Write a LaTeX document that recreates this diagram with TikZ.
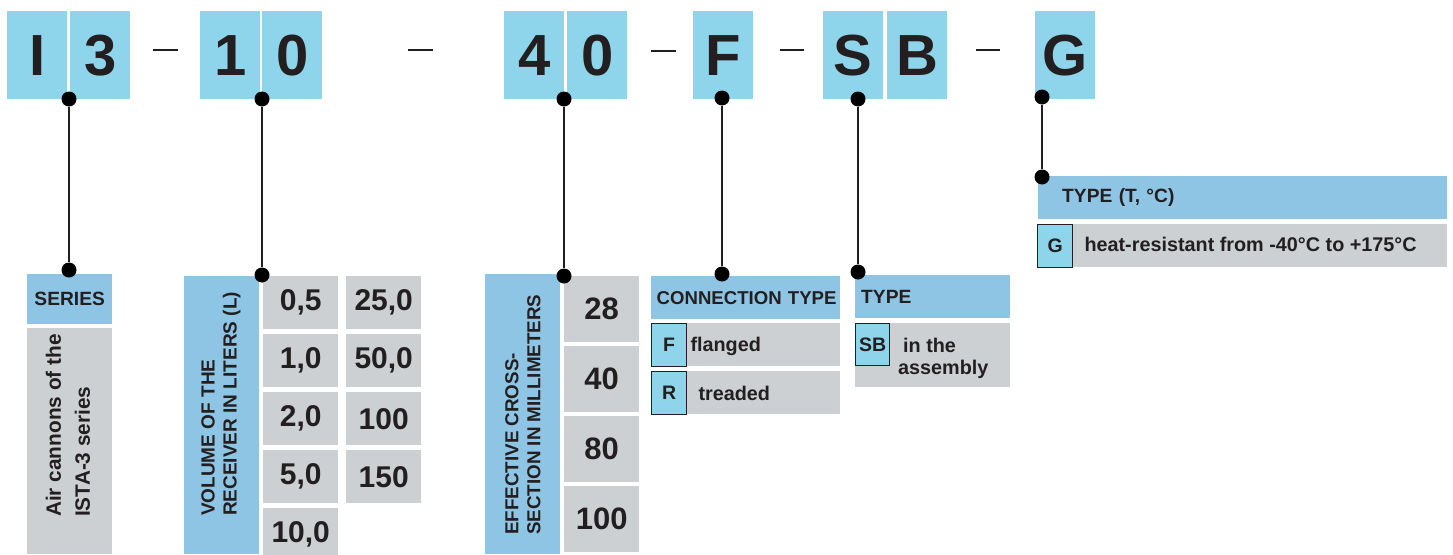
\documentclass[tikz,border=0pt]{standalone}
\usepackage{fontspec}
\setmainfont{Liberation Sans}
\usetikzlibrary{positioning}
\definecolor{codeblue}{HTML}{8ED4EB}
\definecolor{headblue}{HTML}{8FC5E4}
\definecolor{cellgrey}{HTML}{CCD0D2}
\definecolor{inkdark}{HTML}{231F20}

\begin{document}
\begin{tikzpicture}[x=1pt,y=-1pt,font=\bfseries,text=inkdark]
	
	% Styles for code letters, headers, cells and leaders
	\tikzset{
		codebox/.style={anchor=north west,fill=codeblue,inner sep=0pt,minimum width=60pt,minimum height=88pt,font=\fontsize{58}{60}\selectfont\bfseries},
		joint/.style={circle,fill=black,inner sep=0pt,minimum size=15pt},
		leader/.style={line width=2.3pt,draw=inkdark},
		sepline/.style={line width=2.5pt,draw=inkdark},
		headbox/.style={anchor=north west,fill=headblue,inner xsep=6pt,inner ysep=0pt,minimum height=43pt,align=left,font=\fontsize{19.2}{22}\selectfont\bfseries},
		sidebox/.style={anchor=north west,fill=headblue,inner sep=0pt,minimum width=75pt},
		numcell/.style={anchor=north west,fill=cellgrey,inner sep=0pt,minimum width=75pt,font=\fontsize{30}{32}\selectfont\bfseries},
		rowbox/.style={anchor=north west,fill=cellgrey,inner sep=0pt,minimum height=43pt},
		keybox/.style={anchor=north west,fill=codeblue,draw=inkdark,line width=1.3pt,inner sep=0pt,minimum width=35pt,minimum height=43pt,font=\fontsize{19.5}{22}\selectfont\bfseries},
		rowtext/.style={inner sep=0pt,anchor=west,font=\fontsize{19.8}{22}\selectfont\bfseries},
		sidetext/.style={rotate=90,anchor=west,inner sep=0pt,align=left,font=\fontsize{19}{22}\selectfont\bfseries}
	}
	
	\path[use as bounding box,clip] (0,0) rectangle (1453,554);
	
	%========================================
	% Code: I3 - 10 - 40 - F - SB - G
	%========================================
	\node[codebox] (cI) at (7,11) {I};
	\node[codebox] (c3) at (70,11) {3};
	\node[codebox] (c1) at (200,11) {1};
	\node[codebox] (c0) at (262,11) {0};
	\node[codebox] (c4) at (504,11) {4};
	\node[codebox] (c0b) at (567,11) {0};
	\node[codebox] (cF) at (693,11) {F};
	\node[codebox] (cS) at (823,11) {S};
	\node[codebox] (cB) at (887,11) {B};
	\node[codebox] (cG) at (1035,11) {G};
	
	% Dashes between the groups
	\draw[sepline] (153,50) -- (178,50);
	\draw[sepline] (408,50) -- (433,50);
	\draw[sepline] (651,51) -- (676,51);
	\draw[sepline] (780,50) -- (804,50);
	\draw[sepline] (976,50) -- (1000,50);
	
	%========================================
	% Series
	%========================================
	\node[headbox,minimum width=85pt,minimum height=50pt,inner xsep=0pt,align=center] (serhead) at (27,274) {SERIES};
	\node[rowbox,minimum width=85pt,minimum height=226pt] (serbody) at (27,328) {};
	\node[sidetext,font=\fontsize{20.8}{29}\selectfont\bfseries] (sertext) at (68,517) {Air cannons of the\\ISTA-3 series};
	
	%========================================
	% Volume of the receiver
	%========================================
	\node[sidebox,minimum height=278pt] (volside) at (184,276) {};
	\node[sidetext] (voltext) at (221,516) {VOLUME OF THE\\RECEIVER IN LITERS (L)};
	
	\node[numcell,minimum height=53pt] (v05) at (263,276) {0,5};
	\node[numcell,minimum height=53pt] (v10) at (263,334) {1,0};
	\node[numcell,minimum height=53pt] (v20) at (263,392) {2,0};
	\node[numcell,minimum height=53pt] (v50) at (263,450) {5,0};
	\node[numcell,minimum height=53pt] (v100) at (263,508) {10,0};
	\node[numcell,minimum height=53pt] (v250) at (346,276) {25,0};
	\node[numcell,minimum height=53pt] (v500) at (346,334) {50,0};
	\node[numcell,minimum height=53pt] (v1000) at (346,392) {100};
	\node[numcell,minimum height=53pt] (v1500) at (346,450) {150};
	
	%========================================
	% Effective cross-section
	%========================================
	\node[sidebox,minimum height=280pt] (effside) at (485,274) {};
	\node[sidetext,font=\fontsize{18.8}{22}\selectfont\bfseries] (efftext) at (523,535) {EFFECTIVE CROSS-\\SECTION IN MILLIMETERS};
	
	\node[numcell,minimum height=66pt,font=\fontsize{31}{33}\selectfont\bfseries] (e28) at (564,276) {28};
	\node[numcell,minimum height=66pt,font=\fontsize{31}{33}\selectfont\bfseries] (e40) at (564,346) {40};
	\node[numcell,minimum height=66pt,font=\fontsize{31}{33}\selectfont\bfseries] (e80) at (564,416) {80};
	\node[numcell,minimum height=66pt,font=\fontsize{31}{33}\selectfont\bfseries] (e100) at (564,486) {100};
	
	%========================================
	% Connection type
	%========================================
	\node[headbox,text width=182pt,inner xsep=3.5pt,font=\fontsize{18.6}{22}\selectfont\bfseries] (conhead) at (651,276) {\hspace*{2pt}CONNECTION TYPE};
	\node[rowbox,minimum width=189pt] (frow) at (651,323) {};
	\node[keybox] (fkey) at (651,323) {F};
	\node[rowtext,right=3pt of fkey,anchor=mid west,yshift=-4pt] (ftext) {flanged};
	\node[rowbox,minimum width=189pt] (rrow) at (651,371) {};
	\node[keybox] (rkey) at (651,371) {R};
	\node[rowtext,right=11pt of rkey,anchor=mid west,yshift=-5pt] (rtext) {treaded};
	
	%========================================
	% Type
	%========================================
	\node[headbox,text width=143pt] (typehead) at (855,275) {TYPE};
	\node[rowbox,minimum width=155pt,minimum height=64pt] (sbrow) at (855,323) {};
	\node[keybox,minimum width=34pt,minimum height=42pt] (sbkey) at (855,323) {SB};
	\node[rowtext,anchor=north west,align=left] (sbtext) at (898,338) {\hspace*{5pt}in the\\assembly};
	
	%========================================
	% Type (T, °C)
	%========================================
	\node[headbox,text width=361pt,inner xsep=24pt] (ghead) at (1038,176) {TYPE (T, °C)};
	\node[rowbox,minimum width=409pt] (grow) at (1038,224) {};
	\node[keybox] (gkey) at (1037,224) {G};
	\node[rowtext,right=11pt of gkey,anchor=mid west,yshift=-3pt] (gtext) {heat-resistant from -40°C to +175°C};
	
	%========================================
	% Leaders from the code to the tables
	%========================================
	\node[joint] (jI) at (69,99) {};
	\node[joint] (jSer) at (69,270) {};
	\draw[leader] (jI) -- (jSer);
	
	\node[joint] (j10) at (262,99) {};
	\node[joint] (jVol) at (262,275) {};
	\draw[leader] (j10) -- (jVol);
	
	\node[joint] (j40) at (564,99) {};
	\node[joint] (jEff) at (564,276) {};
	\draw[leader] (j40) -- (jEff);
	
	\node[joint] (jF) at (722,98) {};
	\node[joint] (jCon) at (722,274) {};
	\draw[leader] (jF) -- (jCon);
	
	\node[joint] (jSB) at (858,99) {};
	\node[joint] (jType) at (858,272) {};
	\draw[leader] (jSB) -- (jType);
	
	\node[joint] (jG) at (1042,97) {};
	\node[joint] (jGh) at (1042,177) {};
	\draw[leader] (jG) -- (jGh);
	
\end{tikzpicture}
\end{document}
